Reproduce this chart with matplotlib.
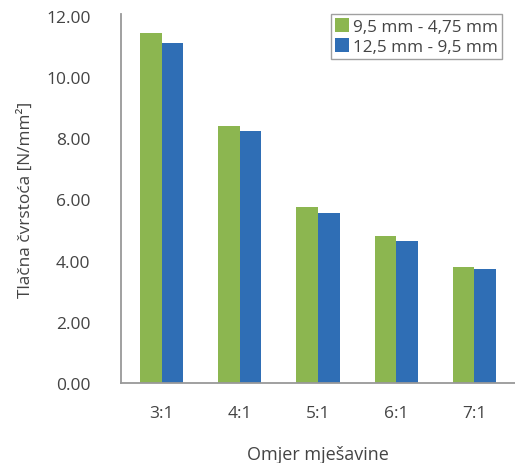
import matplotlib.pyplot as plt
import numpy as np

plt.rcParams['font.family'] = ['Open Sans', 'DejaVu Sans']

omjeri = ['3:1', '4:1', '5:1', '6:1', '7:1']
frakcija_1 = [11.44, 8.41, 5.74, 4.80, 3.78]   # 9,5 mm - 4,75 mm
frakcija_2 = [11.11, 8.22, 5.56, 4.63, 3.73]   # 12,5 mm - 9,5 mm

green = '#8cb650'
blue = '#2f6eb5'
txt = '#444444'

fig = plt.figure(figsize=(5.15, 4.64), dpi=100)
ax = fig.add_axes([0.235, 0.172, 0.765, 0.796])

x = np.arange(len(omjeri))
w = 0.277
ax.bar(x - w / 2, frakcija_1, w, color=green, label='9,5 mm - 4,75 mm')
ax.bar(x + w / 2, frakcija_2, w, color=blue, label='12,5 mm - 9,5 mm')

ax.set_xlim(-0.52, 4.52)
ax.set_ylim(0, 12.06)
ax.set_yticks(np.arange(0, 12.1, 2))
ax.set_yticklabels([f'{v:.2f}' for v in np.arange(0, 12.1, 2)])
ax.set_xticks(x)
ax.set_xticklabels(omjeri)
ax.tick_params(length=0, labelsize=12.5, colors=txt)
ax.tick_params(axis='y', pad=22)
ax.tick_params(axis='x', pad=16)

for s in ['top', 'right']:
    ax.spines[s].set_visible(False)
for s in ['left', 'bottom']:
    ax.spines[s].set_color('#999999')
    ax.spines[s].set_linewidth(1.3)

ax.set_ylabel('Tlačna čvrstoća [N/mm²]', fontsize=12.4, color=txt, labelpad=9)
ax.set_xlabel('Omjer mješavine', fontsize=13, color=txt, labelpad=17)

leg = ax.legend(loc='upper right', bbox_to_anchor=(502 / 515, 1 - 15 / 464),
                bbox_transform=fig.transFigure, fontsize=12.3, frameon=True,
                fancybox=False, edgecolor='#888888', handlelength=0.85,
                handleheight=0.85, handletextpad=0.2, borderpad=0.25,
                labelspacing=0.2, borderaxespad=0)
leg.get_frame().set_linewidth(1.0)
for t in leg.get_texts():
    t.set_color(txt)

fig.savefig('out.png', dpi=100)
